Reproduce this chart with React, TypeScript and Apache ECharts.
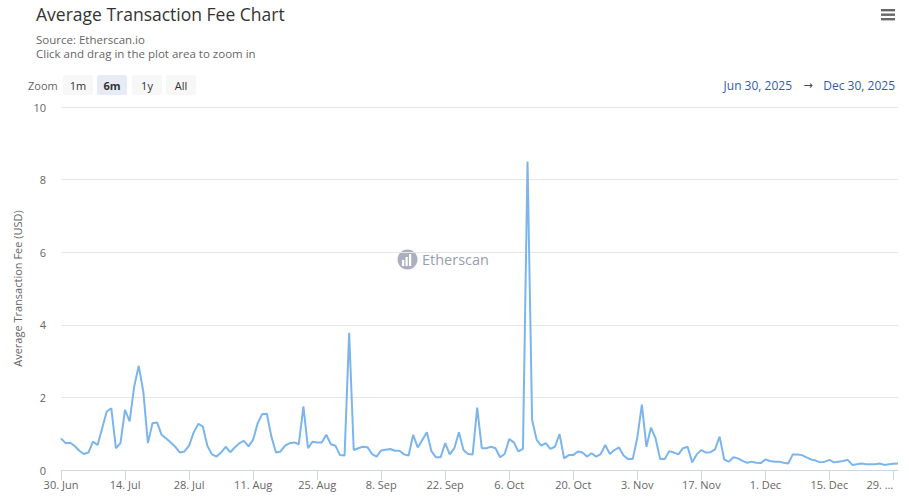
import React, { useEffect, useRef } from "react";
import * as echarts from "echarts";

const START_DATE = Date.UTC(2025, 5, 30);
const DAY_COUNT = 184;
const MONTHS = ["Jan", "Feb", "Mar", "Apr", "May", "Jun", "Jul", "Aug", "Sep", "Oct", "Nov", "Dec"];

const categories: string[] = Array.from({ length: DAY_COUNT }, (_, i) => {
  const d = new Date(START_DATE + i * 86400000);
  return `${d.getUTCFullYear()}-${String(d.getUTCMonth() + 1).padStart(2, "0")}-${String(d.getUTCDate()).padStart(2, "0")}`;
});

const feeValues: number[] = [
  0.87, 0.74, 0.75, 0.66, 0.53, 0.44, 0.48, 0.78, 0.69, 1.15,
  1.61, 1.70, 0.60, 0.74, 1.66, 1.34, 2.30, 2.87, 2.16, 0.74,
  1.29, 1.31, 0.97, 0.87, 0.76, 0.64, 0.48, 0.51, 0.67, 1.03,
  1.27, 1.20, 0.67, 0.43, 0.37, 0.48, 0.64, 0.49, 0.62, 0.74,
  0.80, 0.65, 0.83, 1.29, 1.54, 1.55, 0.92, 0.48, 0.51, 0.67,
  0.74, 0.76, 0.71, 1.75, 0.60, 0.78, 0.76, 0.76, 0.97, 0.71,
  0.67, 0.41, 0.40, 3.78, 0.55, 0.60, 0.64, 0.63, 0.44, 0.37,
  0.54, 0.56, 0.58, 0.53, 0.53, 0.43, 0.40, 0.97, 0.62, 0.83,
  1.04, 0.51, 0.35, 0.35, 0.74, 0.43, 0.60, 1.04, 0.55, 0.44,
  0.43, 1.72, 0.60, 0.60, 0.64, 0.60, 0.35, 0.44, 0.85, 0.76,
  0.51, 0.58, 8.50, 1.38, 0.83, 0.67, 0.74, 0.58, 0.64, 0.99,
  0.32, 0.41, 0.41, 0.51, 0.48, 0.37, 0.46, 0.37, 0.44, 0.69,
  0.44, 0.55, 0.62, 0.40, 0.30, 0.30, 0.89, 1.80, 0.64, 1.17,
  0.87, 0.30, 0.30, 0.52, 0.48, 0.43, 0.60, 0.64, 0.21, 0.43,
  0.55, 0.48, 0.49, 0.57, 0.92, 0.29, 0.23, 0.35, 0.32, 0.25,
  0.20, 0.23, 0.20, 0.19, 0.29, 0.25, 0.23, 0.23, 0.20, 0.18,
  0.43, 0.43, 0.41, 0.35, 0.29, 0.26, 0.21, 0.23, 0.28, 0.21,
  0.23, 0.25, 0.28, 0.14, 0.16, 0.18, 0.16, 0.16, 0.16, 0.18,
  0.14, 0.16, 0.17, 0.18,
];

const zoomButtons = ["1m", "6m", "1y", "All"];
const selectedZoom = "6m";
const rangeFrom = "Jun 30, 2025";
const rangeTo = "Dec 30, 2025";
const LABEL_STEP = 14;

const FONT = "'Open Sans', 'DejaVu Sans', sans-serif";

function formatTick(value: string, index: number): string {
  const [, m, d] = value.split("-");
  const day = String(Number(d));
  if (index + LABEL_STEP > DAY_COUNT && DAY_COUNT - 1 - index < 4) {
    return `{e|${day}. …}`;
  }
  return `${day}. ${MONTHS[Number(m) - 1]}`;
}

export default function App() {
  const ref = useRef<HTMLDivElement>(null);
  useEffect(() => {
    if (!ref.current) return;
    const chart = echarts.init(ref.current, null, { renderer: "svg" });
    const btnX = [63, 97, 132, 166];
    const btnW = [30, 30, 30, 30];
    const graphics: any[] = [
      { type: "text", x: 36, y: 14, style: { text: "Average Transaction Fee Chart", fontSize: 17.5, fill: "#333333", fontFamily: FONT, verticalAlign: "middle" } },
      { type: "text", x: 36, y: 39.5, style: { text: "Source: Etherscan.io", fontSize: 11.5, lineHeight: 12, fill: "#666666", fontFamily: FONT, verticalAlign: "middle" } },
      { type: "text", x: 36, y: 53.5, style: { text: "Click and drag in the plot area to zoom in", fontSize: 11.5, lineHeight: 12, fill: "#666666", fontFamily: FONT, verticalAlign: "middle" } },
      { type: "text", x: 28, y: 85, style: { text: "Zoom", fontSize: 11, fill: "#666666", fontFamily: FONT, verticalAlign: "middle" } },
      { type: "rect", shape: { x: 881, y: 9, width: 14, height: 2.4 }, style: { fill: "#666666" } },
      { type: "rect", shape: { x: 881, y: 13.5, width: 14, height: 2.4 }, style: { fill: "#666666" } },
      { type: "rect", shape: { x: 881, y: 18, width: 14, height: 2.4 }, style: { fill: "#666666" } },
      { type: "text", x: 792, y: 85, style: { text: rangeFrom, fontSize: 12, fill: "#335cad", fontFamily: FONT, align: "right", verticalAlign: "middle" } },
      { type: "text", x: 808, y: 84, style: { text: "→", fontSize: 11, fill: "#444444", fontFamily: FONT, align: "center", verticalAlign: "middle" } },
      { type: "text", x: 895, y: 85, style: { text: rangeTo, fontSize: 12, fill: "#335cad", fontFamily: FONT, align: "right", verticalAlign: "middle" } },
      // watermark
      { type: "circle", shape: { cx: 407.5, cy: 259.5, r: 10 }, style: { fill: "#9ba2b4", opacity: 0.85 } },
      { type: "rect", shape: { x: 402, y: 260, width: 2.2, height: 6 }, style: { fill: "#ffffff" } },
      { type: "rect", shape: { x: 405.5, y: 257, width: 2.2, height: 9 }, style: { fill: "#ffffff" } },
      { type: "rect", shape: { x: 409, y: 254, width: 2.2, height: 12 }, style: { fill: "#ffffff" } },
      { type: "text", x: 422, y: 259.5, style: { text: "Etherscan", fontSize: 14.5, fill: "#979eb0", fontFamily: FONT, verticalAlign: "middle" } },
    ];
    zoomButtons.forEach((b, i) => {
      const sel = b === selectedZoom;
      graphics.push({ type: "rect", shape: { x: btnX[i], y: 75, width: btnW[i], height: 20, r: 2 }, style: { fill: sel ? "#e6ebf5" : "#f7f7f7" } });
      graphics.push({ type: "text", x: btnX[i] + btnW[i] / 2, y: 85, style: { text: b, fontSize: 11, fill: "#333333", fontWeight: sel ? "bold" : "normal", fontFamily: FONT, align: "center", verticalAlign: "middle" } });
    });

    chart.setOption({
      animation: false,
      textStyle: { fontFamily: FONT },
      grid: { left: 61, right: 11, top: 107, bottom: 31 },
      graphic: graphics,
      xAxis: {
        type: "category",
        data: categories,
        boundaryGap: false,
        axisLine: { lineStyle: { color: "#ccd6eb" } },
        axisTick: { interval: (i: number) => i % LABEL_STEP === 0, length: 10, lineStyle: { color: "#ccd6eb" } },
        axisLabel: {
          interval: (i: number) => i % LABEL_STEP === 0,
          formatter: formatTick,
          color: "#666666",
          fontSize: 11,
          margin: 9,
          fontFamily: FONT,
          rich: { e: { color: "#666666", fontSize: 11, fontFamily: FONT, padding: [0, 27, 0, 0] } },
        },
        splitLine: { show: false },
      },
      yAxis: {
        type: "value",
        min: 0,
        max: 10,
        interval: 2,
        name: "Average Transaction Fee (USD)",
        nameLocation: "middle",
        nameGap: 35,
        nameTextStyle: { color: "#666666", fontSize: 11, fontFamily: FONT },
        axisLabel: { color: "#666666", fontSize: 11, margin: 15, fontFamily: FONT },
        splitLine: { lineStyle: { color: "#e6e6e6" } },
        axisLine: { show: false },
        axisTick: { show: false },
      },
      series: [
        {
          type: "line",
          data: feeValues,
          showSymbol: false,
          symbol: "none",
          lineStyle: { color: "#7cb5ec", width: 2 },
          itemStyle: { color: "#7cb5ec" },
        },
      ],
    });
    return () => chart.dispose();
  }, []);
  return <div ref={ref} style={{ width: 909, height: 501, position: "absolute", left: 0, top: 0 }} />;
}
